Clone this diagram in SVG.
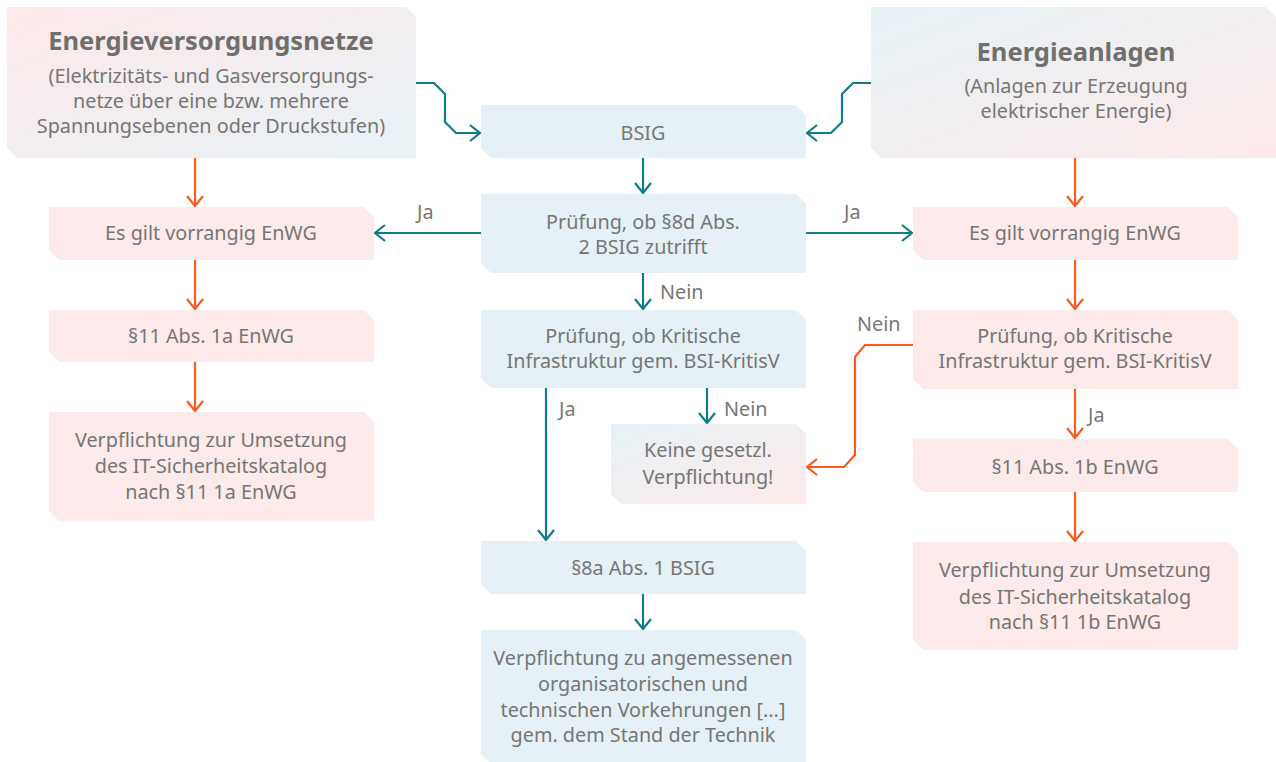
<svg xmlns="http://www.w3.org/2000/svg" width="1276" height="762" viewBox="0 0 1276 762">
  <style>
    .pink { fill: #fdeaea; }
    .blue { fill: #e5f1f6; }
    text { font-family: "Noto Sans", "Open Sans", sans-serif; font-size: 19.8px; fill: #767674; text-anchor: middle; }
    .title { font-size: 25.5px; font-weight: 700; fill: #6f6f6d; }
    .lbl { text-anchor: start; }
    .teal { fill: none; stroke: #117c8a; stroke-width: 2.2; marker-end: url(#ah-teal); }
    .orange { fill: none; stroke: #fa5a1c; stroke-width: 2.2; marker-end: url(#ah-orange); }
  </style>
  <defs>
    <linearGradient id="g-pb" x1="0" y1="0" x2="1" y2="1">
      <stop offset="0" stop-color="#fde9ea"/>
      <stop offset="1" stop-color="#e8f2f6"/>
    </linearGradient>
    <linearGradient id="g-bp" x1="0" y1="0" x2="1" y2="1">
      <stop offset="0" stop-color="#e6f2f6"/>
      <stop offset="1" stop-color="#fdeaea"/>
    </linearGradient>
    <marker id="ah-teal" markerUnits="userSpaceOnUse" markerWidth="14" markerHeight="20" viewBox="-12 -10 14 20" refX="0" refY="0" orient="auto">
      <path d="M-10,-8 L0,0 L-10,8" fill="none" stroke="#117c8a" stroke-width="2.2"/>
    </marker>
    <marker id="ah-orange" markerUnits="userSpaceOnUse" markerWidth="14" markerHeight="20" viewBox="-12 -10 14 20" refX="0" refY="0" orient="auto">
      <path d="M-10,-8 L0,0 L-10,8" fill="none" stroke="#fa5a1c" stroke-width="2.2"/>
    </marker>
  </defs>

  <!-- connectors -->
  <g id="connectors">
    <path class="teal" d="M416,83 H434 L445,94 V122 L456,133 H480"/>
    <path class="teal" d="M871,83 H853 L842,94 V122 L831,133 H807"/>
    <path class="teal" d="M643,158 V193"/>
    <path class="teal" d="M481,233 H375"/>
    <path class="teal" d="M806,233 H912"/>
    <path class="teal" d="M643,273 V309"/>
    <path class="teal" d="M546,388 V540"/>
    <path class="teal" d="M707,388 V423"/>
    <path class="teal" d="M643,594 V629"/>
    <path class="orange" d="M195,158 V206"/>
    <path class="orange" d="M195,260 V309"/>
    <path class="orange" d="M195,362 V411"/>
    <path class="orange" d="M1075,158 V206"/>
    <path class="orange" d="M1075,260 V309"/>
    <path class="orange" d="M1075,389 V438"/>
    <path class="orange" d="M1075,492 V541"/>
    <path class="orange" d="M913,345 H865 L855,357 V455 L844,467 H807"/>
    <text class="lbl" x="417" y="219">Ja</text>
    <text class="lbl" x="844" y="219">Ja</text>
    <text class="lbl" x="660" y="299">Nein</text>
    <text class="lbl" x="559" y="416">Ja</text>
    <text class="lbl" x="724" y="416">Nein</text>
    <text class="lbl" x="857" y="331">Nein</text>
    <text class="lbl" x="1088" y="422">Ja</text>
  </g>

  <!-- left column -->
  <g id="energieversorgungsnetze">
    <path fill="url(#g-pb)" d="M7,7 H406 L416,17 V158 H17 L7,148 Z"/>
    <text class="title" x="211" y="50">Energieversorgungsnetze</text>
    <text x="211" y="83">(Elektrizitäts- und Gasversorgungs-</text>
    <text x="211" y="108">netze über eine bzw. mehrere</text>
    <text x="211" y="133">Spannungsebenen oder Druckstufen)</text>
  </g>
  <g id="enwg-left">
    <path class="pink" d="M49,207 H364 L374,217 V260 H59 L49,250 Z"/>
    <text x="211" y="240">Es gilt vorrangig EnWG</text>
  </g>
  <g id="p11-1a">
    <path class="pink" d="M49,310 H364 L374,320 V362 H59 L49,352 Z"/>
    <text x="211" y="343">§11 Abs. 1a EnWG</text>
  </g>
  <g id="pflicht-1a">
    <path class="pink" d="M49,412 H364 L374,422 V521 H59 L49,511 Z"/>
    <text x="211" y="447">Verpflichtung zur Umsetzung</text>
    <text x="211" y="473">des IT-Sicherheitskatalog</text>
    <text x="211" y="499">nach §11 1a EnWG</text>
  </g>

  <!-- centre column -->
  <g id="bsig">
    <path class="blue" d="M481,105 H796 L806,115 V158 H491 L481,148 Z"/>
    <text x="643" y="140">BSIG</text>
  </g>
  <g id="pruefung-8d">
    <path class="blue" d="M481,194 H796 L806,204 V273 H491 L481,263 Z"/>
    <text x="643" y="229">Prüfung, ob §8d Abs.</text>
    <text x="643" y="254">2 BSIG zutrifft</text>
  </g>
  <g id="pruefung-kritis-bsig">
    <path class="blue" d="M481,310 H796 L806,320 V388 H491 L481,378 Z"/>
    <text x="643" y="343">Prüfung, ob Kritische</text>
    <text x="643" y="368">Infrastruktur gem. BSI-KritisV</text>
  </g>
  <g id="keine-pflicht">
    <path fill="url(#g-bp)" d="M611,424 H796 L806,434 V504 H621 L611,494 Z"/>
    <text x="708" y="457">Keine gesetzl.</text>
    <text x="708" y="484">Verpflichtung!</text>
  </g>
  <g id="p8a">
    <path class="blue" d="M481,541 H796 L806,551 V594 H491 L481,584 Z"/>
    <text x="643" y="575">§8a Abs. 1 BSIG</text>
  </g>
  <g id="pflicht-bsig">
    <path class="blue" d="M481,630 H796 L806,640 V764 H491 L481,754 Z"/>
    <text x="643" y="665">Verpflichtung zu angemessenen</text>
    <text x="643" y="691">organisatorischen und</text>
    <text x="643" y="717">technischen Vorkehrungen [...]</text>
    <text x="643" y="742">gem. dem Stand der Technik</text>
  </g>

  <!-- right column -->
  <g id="energieanlagen">
    <path fill="url(#g-bp)" d="M871,7 H1266 L1276,17 V158 H881 L871,148 Z"/>
    <text class="title" x="1076" y="61">Energieanlagen</text>
    <text x="1076" y="93">(Anlagen zur Erzeugung</text>
    <text x="1076" y="118">elektrischer Energie)</text>
  </g>
  <g id="enwg-right">
    <path class="pink" d="M913,207 H1228 L1238,217 V260 H923 L913,250 Z"/>
    <text x="1075" y="240">Es gilt vorrangig EnWG</text>
  </g>
  <g id="pruefung-kritis-enwg">
    <path class="pink" d="M913,310 H1228 L1238,320 V389 H923 L913,379 Z"/>
    <text x="1075" y="343">Prüfung, ob Kritische</text>
    <text x="1075" y="368">Infrastruktur gem. BSI-KritisV</text>
  </g>
  <g id="p11-1b">
    <path class="pink" d="M913,439 H1228 L1238,449 V492 H923 L913,482 Z"/>
    <text x="1075" y="474">§11 Abs. 1b EnWG</text>
  </g>
  <g id="pflicht-1b">
    <path class="pink" d="M913,542 H1228 L1238,552 V650 H923 L913,640 Z"/>
    <text x="1075" y="577">Verpflichtung zur Umsetzung</text>
    <text x="1075" y="604">des IT-Sicherheitskatalog</text>
    <text x="1075" y="629">nach §11 1b EnWG</text>
  </g>
</svg>
